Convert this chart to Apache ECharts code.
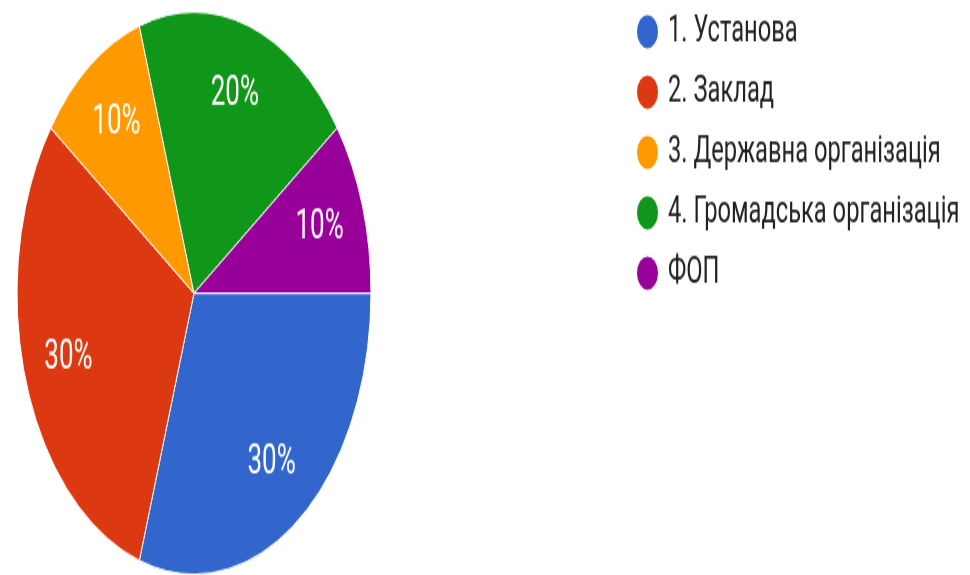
<!DOCTYPE html>
<html>
<head>
<meta charset="utf-8">
<script src="https://cdn.jsdelivr.net/npm/echarts@6/dist/echarts.min.js"></script>
<style>
  html, body { margin: 0; padding: 0; background: #ffffff; overflow: hidden; }
  #wrap { width: 970px; height: 575px; overflow: hidden; }
  #chart { width: 970px; height: 362px; transform: scaleY(1.5884); transform-origin: 0 0; }
</style>
</head>
<body>
<div id="wrap"><div id="chart"></div></div>
<script>
const categories = ['1. Установа', '2. Заклад', '3. Державна організація', '4. Громадська організація', 'ФОП'];
const values = [3, 3, 1, 2, 1];
const colors = ['#3366cc', '#dc3912', '#ff9900', '#109618', '#990099'];

const data = categories.map((name, i) => ({ name: name, value: values[i], itemStyle: { color: colors[i] } }));

const chart = echarts.init(document.getElementById('chart'), null, { renderer: 'canvas' });
chart.setOption({
  animation: false,
  backgroundColor: '#ffffff',
  color: colors,
  legend: {
    orient: 'vertical',
    left: 630,
    top: 2.4,
    itemWidth: 23,
    itemHeight: 23,
    itemGap: 13,
    icon: 'circle',
    selectedMode: false,
    textStyle: { fontFamily: 'Roboto', fontSize: 23.7, color: '#222222', padding: [0, 0, 0, 4] },
    data: categories
  },
  series: [
    {
      type: 'pie',
      center: [194, 184.6],
      radius: [0, 177],
      startAngle: 0,
      clockwise: true,
      silent: true,
      label: { show: false },
      labelLine: { show: false },
      itemStyle: { borderColor: '#ffffff', borderWidth: 1 },
      data: data
    },
    {
      type: 'pie',
      center: [194, 184.6],
      radius: [81, 177],
      startAngle: 0,
      clockwise: true,
      silent: true,
      legendHoverLink: false,
      itemStyle: { color: 'rgba(0,0,0,0)', borderWidth: 0 },
      label: {
        show: true,
        position: 'inside',
        formatter: '{d}%',
        fontFamily: 'Roboto',
        fontSize: 26,
        color: '#ffffff'
      },
      labelLine: { show: false },
      data: categories.map((name, i) => ({ name: name, value: values[i], itemStyle: { color: 'rgba(0,0,0,0)' } }))
    }
  ]
});
</script>
</body>
</html>
